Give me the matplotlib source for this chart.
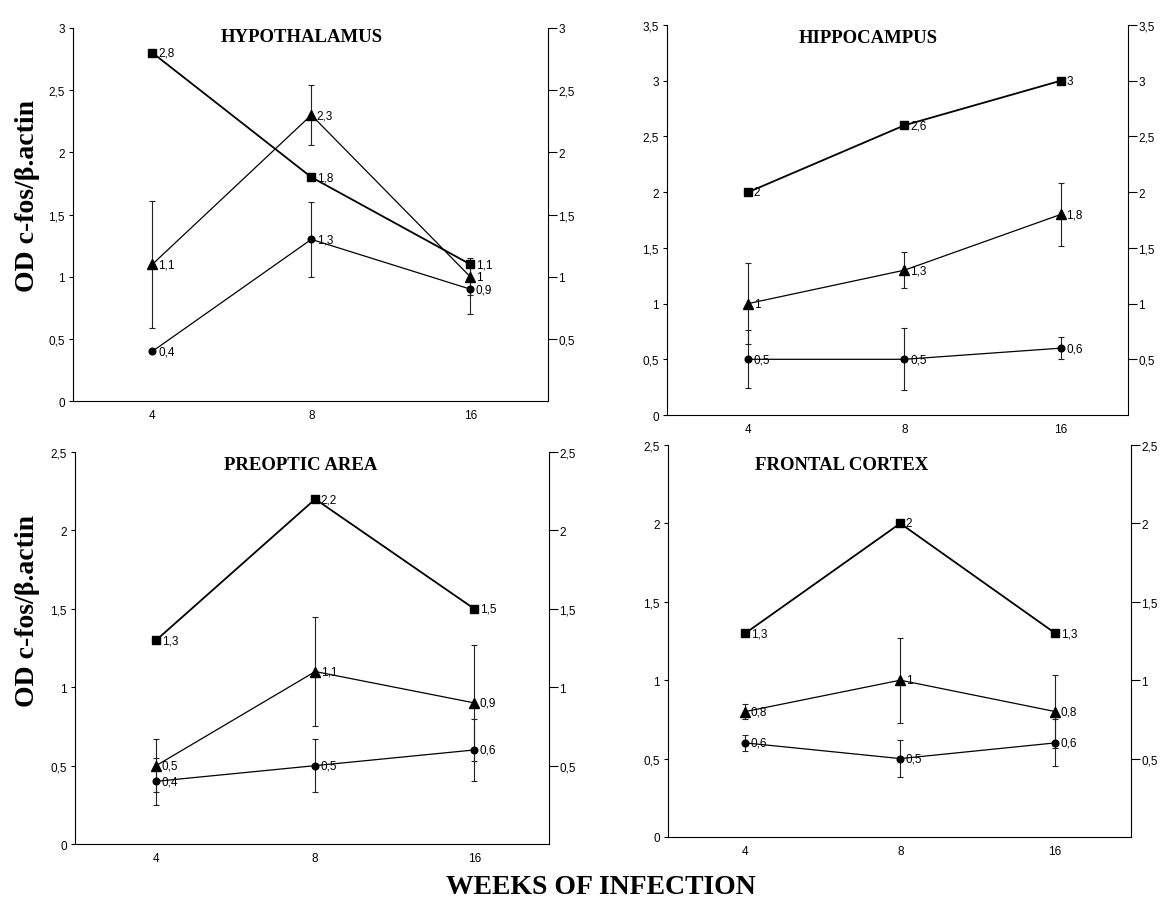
import numpy as np
import matplotlib
matplotlib.use('Agg')
import matplotlib.pyplot as plt
from matplotlib.ticker import FuncFormatter

weeks = ['4', '8', '16']

# hypothalamus
hyp_sq = [2.8, 1.8, 1.1]
hyp_tri = [1.1, 2.3, 1.0]
hyp_ci = [0.4, 1.3, 0.9]
hyp_sq_err = [0, 0, 0]
hyp_tri_err = [0.51, 0.24, 0.15]
hyp_ci_err = [0, 0.3, 0.2]

# hippocampus
hip_sq = [2.0, 2.6, 3.0]
hip_tri = [1.0, 1.3, 1.8]
hip_ci = [0.5, 0.5, 0.6]
hip_sq_err = [0, 0, 0]
hip_tri_err = [0.36, 0.16, 0.28]
hip_ci_err = [0.26, 0.28, 0.1]

# preoptic area
poa_sq = [1.3, 2.2, 1.5]
poa_tri = [0.5, 1.1, 0.9]
poa_ci = [0.4, 0.5, 0.6]
poa_sq_err = [0, 0, 0]
poa_tri_err = [0.17, 0.35, 0.37]
poa_ci_err = [0.15, 0.17, 0.2]

# frontal cortex
fc_sq = [1.3, 2.0, 1.3]
fc_tri = [0.8, 1.0, 0.8]
fc_ci = [0.6, 0.5, 0.6]
fc_sq_err = [0, 0, 0]
fc_tri_err = [0.05, 0.27, 0.23]
fc_ci_err = [0.05, 0.12, 0.15]

panels = [
    ('HYPOTHALAMUS', [0.0627, 0.5548, 0.4077, 0.4131], 3.0, (-0.5, 2.49), (0.482, 0.976),
     [(hyp_sq, hyp_sq_err), (hyp_tri, hyp_tri_err), (hyp_ci, hyp_ci_err)]),
    ('HIPPOCAMPUS', [0.5725, 0.5393, 0.3957, 0.4319], 3.5, (-0.52, 2.43), (0.436, 0.969),
     [(hip_sq, hip_sq_err), (hip_tri, hip_tri_err), (hip_ci, hip_ci_err)]),
    ('PREOPTIC AREA', [0.0644, 0.0642, 0.4069, 0.4341], 2.5, (-0.51, 2.47), (0.477, 0.967),
     [(poa_sq, poa_sq_err), (poa_tri, poa_tri_err), (poa_ci, poa_ci_err)]),
    ('FRONTAL CORTEX', [0.5734, 0.0720, 0.3974, 0.4341], 2.5, (-0.50, 2.49), (0.374, 0.949),
     [(fc_sq, fc_sq_err), (fc_tri, fc_tri_err), (fc_ci, fc_ci_err)]),
]

styles = [('s', 6, 1.3), ('^', 6.5, 0.9), ('o', 4.8, 0.9)]

comma = FuncFormatter(lambda v, p: f'{v:g}'.replace('.', ','))
sans = 'Liberation Sans'
serif = 'Liberation Serif'

fig = plt.figure(figsize=(11.65, 9.03), dpi=100)

for title, pos, ytop, xl, tpos, series in panels:
    ax = fig.add_axes(pos)
    x = np.arange(len(weeks))
    for (vals, err), (mk, ms, lw) in zip(series, styles):
        vals = np.array(vals)
        err = np.array(err)
        ax.plot(x, vals, color='black', lw=lw, marker=mk, ms=ms, zorder=3)
        m = err > 0
        if m.any():
            ax.errorbar(x[m], vals[m], yerr=err[m], fmt='none', ecolor='#222222',
                        elinewidth=0.8, capsize=2, capthick=0.8, zorder=2)
        for xi, v in zip(x, vals):
            ax.annotate(f'{v:g}'.replace('.', ','), (xi, v), xytext=(4, 0),
                        textcoords='offset points', va='center', ha='left',
                        fontsize=8.5, family=sans, zorder=4)
    ax.set_xlim(*xl)
    ax.set_ylim(0, ytop)
    ax.set_xticks(x)
    ax.set_xticklabels(weeks, family=sans, fontsize=8.5)
    ax.set_yticks(np.arange(0, ytop + 0.01, 0.5))
    ax.yaxis.set_major_formatter(comma)
    ax.tick_params(axis='x', length=0, pad=6)
    ax.tick_params(axis='y', length=3, width=0.8, pad=3, labelsize=8.5)
    for lab in ax.get_yticklabels():
        lab.set_family(sans)
    ax.spines['top'].set_visible(False)
    ax.spines['right'].set_visible(False)
    ax.text(tpos[0], tpos[1], title, transform=ax.transAxes, ha='center', va='center',
            family=serif, fontweight='bold', fontsize=13.5)

    axr = ax.twinx()
    axr.set_ylim(0, ytop)
    axr.set_yticks(np.arange(0.5, ytop + 0.01, 0.5))
    axr.yaxis.set_major_formatter(comma)
    axr.tick_params(axis='y', length=6.5, width=0.8, pad=1, labelsize=8.5)
    for lab in axr.get_yticklabels():
        lab.set_family(sans)
    for s in ['top', 'left', 'bottom']:
        axr.spines[s].set_visible(False)

fig.text(0.024, 0.783, 'OD c-fos/β.actin', rotation=90, ha='center', va='center',
         family=serif, fontweight='bold', fontsize=20)
fig.text(0.024, 0.323, 'OD c-fos/β.actin', rotation=90, ha='center', va='center',
         family=serif, fontweight='bold', fontsize=20)
fig.text(0.516, 0.003, 'WEEKS OF INFECTION', ha='center', va='bottom',
         family=serif, fontweight='bold', fontsize=20)

fig.savefig('out.png', dpi=100)
